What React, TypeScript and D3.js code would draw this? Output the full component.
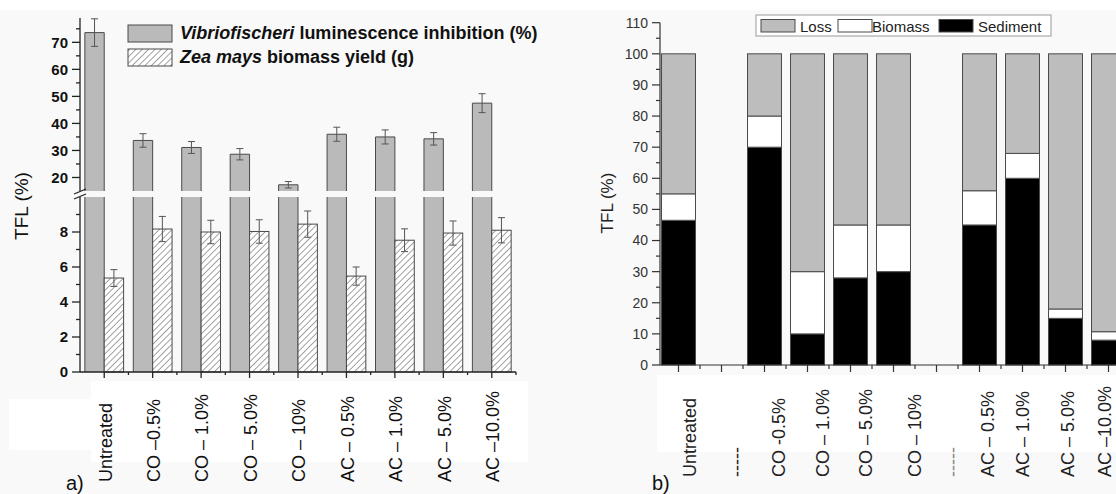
import React from 'react';
import * as d3 from 'd3';

// panel a) toxicity / biomass
const leftCategories = ['Untreated', 'CO \u20130.5%', 'CO \u2013 1.0%', 'CO \u2013 5.0%', 'CO \u2013 10%', 'AC \u2013 0.5%', 'AC \u2013 1.0%', 'AC \u2013 5.0%', 'AC \u201310.0%'];
const vibrioInhibition = [73.6, 33.7, 31.1, 28.6, 17.3, 36.0, 35.0, 34.3, 47.5];
const vibrioError = [5.1, 2.5, 2.2, 2.1, 1.2, 2.6, 2.6, 2.3, 3.5];
const zeaBiomass = [5.37, 8.17, 8.0, 8.03, 8.45, 5.48, 7.53, 7.94, 8.1];
const zeaError = [0.48, 0.72, 0.67, 0.67, 0.75, 0.52, 0.65, 0.69, 0.72];
const upperTicks = [20, 30, 40, 50, 60, 70];
const upperMinor = [25, 35, 45, 55, 65, 75];
const lowerTicks = [0, 2, 4, 6, 8];
const lowerMinor = [1, 3, 5, 7, 9];

// panel b) fate of TFL
const rightCategories = ['Untreated', '-----', 'CO -0.5%', 'CO \u2013 1.0%', 'CO \u2013 5.0%', 'CO \u2013 10%', '-----', 'AC \u2013 0.5%', 'AC \u2013 1.0%', 'AC \u2013 5.0%', 'AC \u201310.0%'];
const sediment = [46.5, 0, 70, 10, 28, 30, 0, 45, 60, 15, 8];
const biomass = [8.5, 0, 10, 20, 17, 15, 0, 11, 8, 3, 2.7];
const loss = [45, 0, 20, 70, 55, 55, 0, 44, 32, 82, 89.3];
const rightTicks = [0, 10, 20, 30, 40, 50, 60, 70, 80, 90, 100, 110];
const legendKeys = ['Loss', 'Biomass', 'Sediment'];

// hand placed label offsets in the original figure
const rightNudge = [11, 15, 14, 15, 15, 21, 16, 8, 0, 2, -4];

const W = 1116;
const H = 494;
const FONT = '"Liberation Sans", Arial, Helvetica, sans-serif';
const GRAY = '#bababa';
const EDGE = '#4a4a4a';

export default function App() {
  // ---- left panel scales
  const xL = d3.scaleBand<string>().domain(leftCategories).range([80, 516]);
  const yUp = d3.scaleLinear().domain([15, 79]).range([191, 18]);
  const yLo = d3.scaleLinear().domain([0, 10]).range([372, 197]);
  const barW = xL.bandwidth() * 0.4;
  const cx = (c: string) => (xL(c) as number) + xL.bandwidth() / 2;

  // ---- right panel scales
  const idx = rightCategories.map((_, i) => String(i));
  const xR = d3.scaleBand<string>().domain(idx).range([657, 1130]).paddingInner(0.21).paddingOuter(0.105);
  const yR = d3.scaleLinear().domain([0, 110]).range([365, 22.7]);
  const table = rightCategories.map((_, i) => ({ sediment: sediment[i], biomass: biomass[i], loss: loss[i] }));
  const stack = d3.stack<any>().keys(['sediment', 'biomass', 'loss'])(table);
  const fills: Record<string, string> = { sediment: '#000', biomass: '#fff', loss: '#bdbdbd' };

  const errBar = (x: number, y0: number, y1: number, key: string) => (
    <g key={key} stroke="#555" strokeWidth={1}>
      <line x1={x} x2={x} y1={y0} y2={y1} />
      <line x1={x - 3.5} x2={x + 3.5} y1={y0} y2={y0} />
      <line x1={x - 3.5} x2={x + 3.5} y1={y1} y2={y1} />
    </g>
  );

  return (
    <svg width={W} height={H} style={{ position: 'absolute', left: 0, top: 0 }} fontFamily={FONT}>
      <defs>
        <pattern id="hatch" patternUnits="userSpaceOnUse" width={4.5} height={4.5} patternTransform="rotate(45)">
          <rect width={4.5} height={4.5} fill="#fff" />
          <line x1={0} y1={0} x2={0} y2={4.5} stroke="#555" strokeWidth={1.1} />
        </pattern>
      </defs>
      <rect width={W} height={H} fill="#f9f9f9" />
      <rect width={W} height={10} fill="#fff" />
      <rect x={91} y={381} width={437} height={81} fill="#fff" />
      <rect x={9} y={399} width={82} height={51} fill="#fff" />
      <rect x={657} y={375} width={459} height={77} fill="#fff" />

      {/* ===== panel a ===== */}
      {leftCategories.map((c, i) => {
        const x0 = cx(c) - barW;
        const v = vibrioInhibition[i];
        const loTop = v >= 10 ? 197 : yLo(v);
        const upTop = yUp(v);
        return (
          <g key={'g' + c}>
            <rect x={x0} y={loTop} width={barW} height={372 - loTop} fill={GRAY} />
            <path d={`M${x0},372V${loTop}${v >= 10 ? 'M' + (x0 + barW) + ',' + loTop : 'H' + (x0 + barW)}V372`} fill="none" stroke={EDGE} />
            {v > 15 && (
              <>
                <rect x={x0} y={upTop} width={barW} height={191 - upTop} fill={GRAY} />
                <path d={`M${x0},191V${upTop}H${x0 + barW}V191`} fill="none" stroke={EDGE} />
              </>
            )}
            {errBar(x0 + barW / 2, yUp(v + vibrioError[i]), yUp(v - vibrioError[i]), 'e' + c)}
          </g>
        );
      })}
      {leftCategories.map((c, i) => {
        const x0 = cx(c);
        const v = zeaBiomass[i];
        return (
          <g key={'h' + c}>
            <rect x={x0} y={yLo(v)} width={barW} height={372 - yLo(v)} fill="url(#hatch)" stroke={EDGE} />
            {errBar(x0 + barW / 2, yLo(v + zeaError[i]), yLo(v - zeaError[i]), 'z' + c)}
          </g>
        );
      })}

      {/* left y axis with break */}
      <g stroke="#222" strokeWidth={1.3}>
        <line x1={80} x2={80} y1={18} y2={191} />
        <line x1={80} x2={80} y1={197} y2={372} />
        <line x1={80} x2={516} y1={372} y2={372} />
        {upperTicks.map(t => <line key={'ut' + t} x1={72} x2={80} y1={yUp(t)} y2={yUp(t)} />)}
        {upperMinor.map(t => <line key={'um' + t} x1={76} x2={80} y1={yUp(t)} y2={yUp(t)} />)}
        {lowerTicks.map(t => <line key={'lt' + t} x1={72} x2={80} y1={yLo(t)} y2={yLo(t)} />)}
        {lowerMinor.map(t => <line key={'lm' + t} x1={76} x2={80} y1={yLo(t)} y2={yLo(t)} />)}
        {leftCategories.map(c => <line key={'xt' + c} x1={cx(c)} x2={cx(c)} y1={372} y2={378} />)}
        {leftCategories.map(c => <line key={'xm' + c} x1={cx(c) + xL.bandwidth() / 2} x2={cx(c) + xL.bandwidth() / 2} y1={372} y2={375} />)}
        <line x1={74} y1={194} x2={86} y2={189} />
        <line x1={74} y1={199} x2={86} y2={194} />
      </g>
      <g fontSize={15} fontWeight="bold" fill="#111" textAnchor="end">
        {upperTicks.map(t => <text key={'ul' + t} x={68} y={yUp(t)} dy="0.35em">{t}</text>)}
        {lowerTicks.map(t => <text key={'ll' + t} x={68} y={yLo(t)} dy="0.35em">{t}</text>)}
      </g>
      <text transform="translate(28,206) rotate(-90)" textAnchor="middle" fontSize={19} fill="#111">TFL (%)</text>
      <g fontSize={18} fill="#111">
        {leftCategories.map(c => (
          <text key={'xl' + c} transform={`translate(${cx(c) + 1},482) rotate(-90)`} dy="0.35em">{c}</text>
        ))}
      </g>
      <text x={66} y={490} fontSize={20} fill="#111">a)</text>

      {/* left legend */}
      <rect x={128} y={25} width={44} height={17} fill={GRAY} stroke={EDGE} />
      <rect x={128} y={49} width={44} height={17} fill="url(#hatch)" stroke={EDGE} />
      <text x={180} y={39} fontSize={18} fontWeight="bold" fill="#111">
        <tspan fontStyle="italic">Vibriofischeri</tspan> luminescence inhibition (%)
      </text>
      <text x={180} y={63} fontSize={18} fontWeight="bold" fill="#111">
        <tspan fontStyle="italic">Zea mays</tspan> biomass yield (g)
      </text>

      {/* ===== panel b ===== */}
      {stack.map(layer => (
        <g key={layer.key} fill={fills[layer.key]}>
          {layer.map((d, i) => (d[1] - d[0] > 0 ? (
            <rect key={i} x={xR(String(i))} y={yR(d[1])} width={xR.bandwidth()} height={yR(d[0]) - yR(d[1])} stroke={EDGE} strokeWidth={1} />
          ) : null))}
        </g>
      ))}
      <g stroke="#333" strokeWidth={1.2}>
        <line x1={660} x2={660} y1={22.7} y2={365} />
        <line x1={660} x2={1116} y1={365} y2={365} />
        {rightTicks.map(t => <line key={'rt' + t} x1={652} x2={660} y1={yR(t)} y2={yR(t)} />)}
        {rightTicks.slice(0, -1).map(t => <line key={'rm' + t} x1={656} x2={660} y1={yR(t + 5)} y2={yR(t + 5)} />)}
        {idx.map(k => {
          const c = (xR(k) as number) + xR.bandwidth() / 2;
          return (
            <g key={'rx' + k}>
              <line x1={c} x2={c} y1={365} y2={372} />
              <line x1={c + xR.step() / 2} x2={c + xR.step() / 2} y1={365} y2={369} />
            </g>
          );
        })}
      </g>
      <g fontSize={14} fill="#333" textAnchor="end">
        {rightTicks.map(t => <text key={'rl' + t} x={648} y={yR(t)} dy="0.35em">{t}</text>)}
      </g>
      <text transform="translate(613,203) rotate(-90)" textAnchor="middle" fontSize={17} fill="#222">TFL (%)</text>
      <g fontSize={18} fill="#222">
        {rightCategories.map((c, i) => (
          <text key={'rx' + i} transform={`translate(${(xR(String(i)) as number) + xR.bandwidth() / 2 + rightNudge[i]},477) rotate(-90)`} dy="0.35em" fill={i === 6 ? '#888' : '#222'}>{c}</text>
        ))}
      </g>
      <text x={652} y={490} fontSize={20} fill="#111">b)</text>

      {/* right legend */}
      <rect x={756} y={15} width={295} height={21} fill="#fff" stroke="#999" />
      {legendKeys.map((k, i) => {
        const sx = [761, 838, 939][i];
        const tx = [800, 872, 978][i];
        return (
          <g key={'lg' + k}>
            <rect x={sx} y={19.5} width={34} height={12.5} fill={fills[k.toLowerCase()]} stroke={EDGE} />
            <text x={tx} y={31.5} fontSize={15} fill="#222">{k}</text>
          </g>
        );
      })}
    </svg>
  );
}
